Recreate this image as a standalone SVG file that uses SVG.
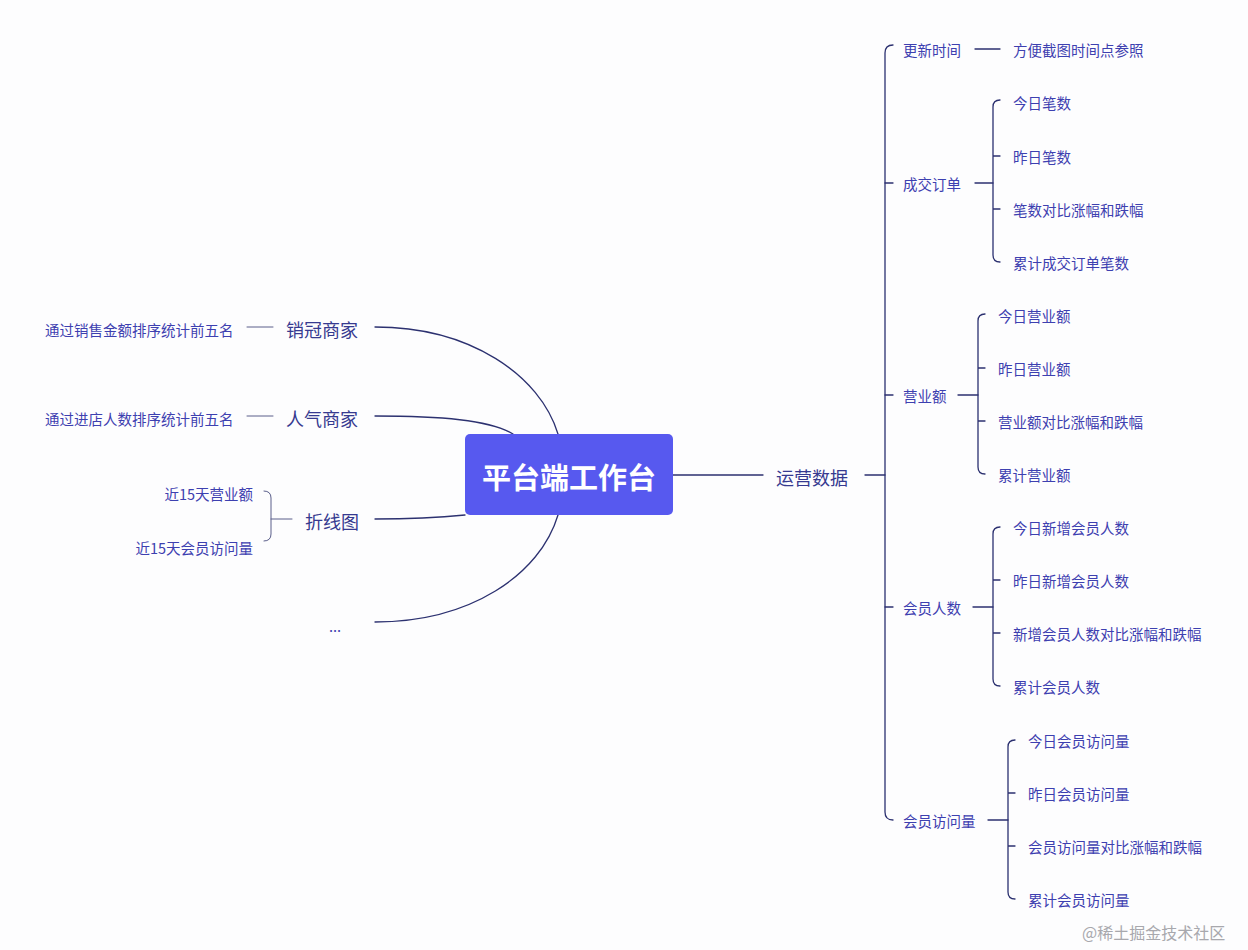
<svg xmlns="http://www.w3.org/2000/svg" width="1248" height="950" viewBox="0 0 1248 950">
<style>
.ln{fill:none;stroke:#2c3170;stroke-width:1.3;stroke-linecap:round}
.lt{fill:none;stroke:#5a5e8a;stroke-width:1;stroke-linecap:round}
.s{font-family:"Noto Sans CJK SC",sans-serif;font-size:14.5px;fill:#3d40b0;dominant-baseline:central}
.m{font-family:"Noto Sans CJK SC",sans-serif;font-size:18px;fill:#363a90;dominant-baseline:central}
.c{font-family:"Noto Sans CJK SC",sans-serif;font-size:29px;font-weight:bold;fill:#ffffff;dominant-baseline:central;text-anchor:middle}
.r{text-anchor:end}
.wm{font-family:"Noto Sans CJK SC",sans-serif;font-size:16px;fill:#a8a8ad;dominant-baseline:central}
</style>
<rect width="1248" height="950" fill="#fdfdfe"/>
<g id="connectors">
<path class="ln" d="M673,475 H763"/>
<path class="ln" d="M865,475 H885"/>
<path class="ln" d="M893,45 Q885,45 885,53 V812 Q885,820 893,820"/>
<path class="ln" d="M885,183 H893 M885,395 H893 M885,607 H893"/>
<path class="ln" d="M975,49 H1000"/>
<path class="ln" d="M975,183 H993"/>
<path class="ln" d="M1000,100 Q993,100 993,107 V255 Q993,262 1000,262 M993,156 H1000 M993,209 H1000"/>
<path class="ln" d="M958,395 H978"/>
<path class="ln" d="M985,314 Q978,314 978,321 V467 Q978,474 985,474 M978,368 H985 M978,421 H985"/>
<path class="ln" d="M973,607 H993"/>
<path class="ln" d="M1000,527 Q993,527 993,534 V679 Q993,686 1000,686 M993,580 H1000 M993,633 H1000"/>
<path class="ln" d="M988,820 H1008"/>
<path class="ln" d="M1015,740 Q1008,740 1008,747 V892 Q1008,899 1015,899 M1008,793 H1015 M1008,846 H1015"/>
<path class="lt" d="M247,327 H273"/>
<path class="lt" d="M247,416 H273"/>
<path class="ln" d="M375,327 C470,327 540,375 558,434"/>
<path class="ln" d="M375,416 C440,416 490,420 513,434"/>
<path class="ln" d="M375,519 C420,519 445,517 465,515"/>
<path class="ln" d="M375,622 C470,622 540,575 558,515"/>
<path class="lt" d="M292,519 H271"/>
<path class="lt" d="M264,491 Q271,491 271,498 V534 Q271,541 264,541"/>
</g>
<g id="root">
<rect x="465" y="434" width="208" height="81" rx="5" fill="#5759ef"/>
<text class="c" x="569" y="476">平台端工作台</text>
</g>
<g id="yunying"><text class="m" x="776" y="477">运营数据</text></g>
<g id="gengxin"><text class="s" x="903" y="49">更新时间</text></g>
<g id="gengxin-1"><text class="s" x="1013" y="49">方便截图时间点参照</text></g>
<g id="chengjiao"><text class="s" x="903" y="183">成交订单</text></g>
<g id="chengjiao-1"><text class="s" x="1013" y="102">今日笔数</text></g>
<g id="chengjiao-2"><text class="s" x="1013" y="156">昨日笔数</text></g>
<g id="chengjiao-3"><text class="s" x="1013" y="209">笔数对比涨幅和跌幅</text></g>
<g id="chengjiao-4"><text class="s" x="1013" y="262">累计成交订单笔数</text></g>
<g id="yingye"><text class="s" x="903" y="395">营业额</text></g>
<g id="yingye-1"><text class="s" x="998" y="315">今日营业额</text></g>
<g id="yingye-2"><text class="s" x="998" y="368">昨日营业额</text></g>
<g id="yingye-3"><text class="s" x="998" y="421">营业额对比涨幅和跌幅</text></g>
<g id="yingye-4"><text class="s" x="998" y="474">累计营业额</text></g>
<g id="huiyuan"><text class="s" x="903" y="607">会员人数</text></g>
<g id="huiyuan-1"><text class="s" x="1013" y="527">今日新增会员人数</text></g>
<g id="huiyuan-2"><text class="s" x="1013" y="580">昨日新增会员人数</text></g>
<g id="huiyuan-3"><text class="s" x="1013" y="633">新增会员人数对比涨幅和跌幅</text></g>
<g id="huiyuan-4"><text class="s" x="1013" y="686">累计会员人数</text></g>
<g id="fangwen"><text class="s" x="903" y="820">会员访问量</text></g>
<g id="fangwen-1"><text class="s" x="1028" y="740">今日会员访问量</text></g>
<g id="fangwen-2"><text class="s" x="1028" y="793">昨日会员访问量</text></g>
<g id="fangwen-3"><text class="s" x="1028" y="846">会员访问量对比涨幅和跌幅</text></g>
<g id="fangwen-4"><text class="s" x="1028" y="899">累计会员访问量</text></g>
<g id="xiaoguan"><text class="m" x="286" y="329">销冠商家</text></g>
<g id="xiaoguan-1"><text class="s" x="45" y="329">通过销售金额排序统计前五名</text></g>
<g id="renqi"><text class="m" x="286" y="418">人气商家</text></g>
<g id="renqi-1"><text class="s" x="45" y="418">通过进店人数排序统计前五名</text></g>
<g id="zhexian"><text class="m" x="305" y="521">折线图</text></g>
<g id="zhexian-1"><text class="s r" x="253" y="493">近15天营业额</text></g>
<g id="zhexian-2"><text class="s r" x="253" y="547">近15天会员访问量</text></g>
<g id="more"><text class="s" x="329" y="625">...</text></g>
<text class="wm" x="1082" y="932">@稀土掘金技术社区</text>
</svg>
